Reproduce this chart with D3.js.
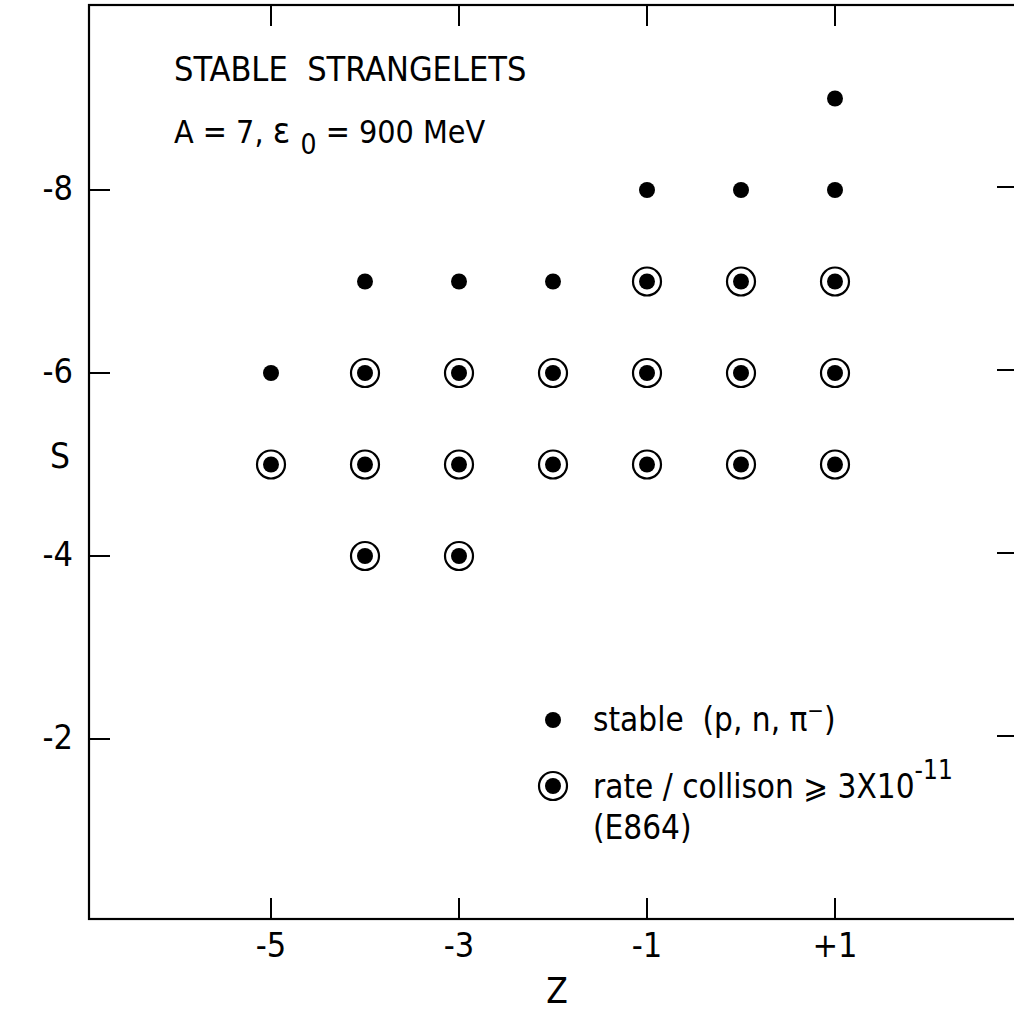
<!DOCTYPE html>
<html>
<head>
<meta charset="utf-8">
<script src="https://cdn.jsdelivr.net/npm/d3@7"></script>
<style>
  html, body { margin: 0; padding: 0; background: #fff; }
  svg { display: block; }
  text { font-family: "DejaVu Sans Condensed", "DejaVu Sans", sans-serif; font-stretch: condensed; fill: #000; }
</style>
</head>
<body>
<svg id="chart" width="1014" height="1026"></svg>
<script>
// Charge Z and strangeness S of strangelets with baryon number A = 7
const zTicks = [-5, -3, -1, 1];
const zTickLabels = ["-5", "-3", "-1", "+1"];
const sTicks = [-8, -6, -4, -2];
const sTickLabels = ["-8", "-6", "-4", "-2"];

// all stable states (p, n, pi- emission forbidden): [Z, S]
const stablePoints = [
  [1, -9],
  [-1, -8], [0, -8], [1, -8],
  [-4, -7], [-3, -7], [-2, -7], [-1, -7], [0, -7], [1, -7],
  [-5, -6], [-4, -6], [-3, -6], [-2, -6], [-1, -6], [0, -6], [1, -6],
  [-5, -5], [-4, -5], [-3, -5], [-2, -5], [-1, -5], [0, -5], [1, -5],
  [-4, -4], [-3, -4]
];
// states produced at rate / collision >= 3e-11 (E864 reach): [Z, S]
const e864Points = [
  [-1, -7], [0, -7], [1, -7],
  [-4, -6], [-3, -6], [-2, -6], [-1, -6], [0, -6], [1, -6],
  [-5, -5], [-4, -5], [-3, -5], [-2, -5], [-1, -5], [0, -5], [1, -5],
  [-4, -4], [-3, -4]
];

const frame = { left: 89, right: 1021, top: 5, bottom: 919 };

const svg = d3.select("#chart");
const x = d3.scaleLinear().domain([-5, 1]).range([271, 835]);
const y = d3.scaleLinear().domain([-8, -2]).range([190, 739]);

// plot frame
svg.append("rect")
  .attr("x", frame.left).attr("y", frame.top)
  .attr("width", frame.right - frame.left).attr("height", frame.bottom - frame.top)
  .attr("fill", "none").attr("stroke", "#000").attr("stroke-width", 2.2);

const tickLen = 21;
const ticks = svg.append("g").attr("stroke", "#000").attr("stroke-width", 2);
// ticks along bottom and top edges, pointing inward
ticks.selectAll(".tb").data(zTicks).join("line")
  .attr("x1", d => x(d)).attr("x2", d => x(d))
  .attr("y1", frame.bottom).attr("y2", frame.bottom - tickLen);
ticks.selectAll(".tt").data(zTicks).join("line")
  .attr("x1", d => x(d)).attr("x2", d => x(d))
  .attr("y1", frame.top).attr("y2", frame.top + tickLen);
// ticks along left and right edges
ticks.selectAll(".tl").data(sTicks).join("line")
  .attr("x1", frame.left).attr("x2", frame.left + tickLen)
  .attr("y1", d => y(d)).attr("y2", d => y(d));
ticks.selectAll(".tr").data(sTicks).join("line")
  .attr("x1", frame.right).attr("x2", frame.right - 24)
  .attr("y1", d => y(d) - 3).attr("y2", d => y(d) - 3);

// tick labels
svg.append("g").selectAll("text").data(zTicks).join("text")
  .attr("x", d => x(d)).attr("y", 957)
  .attr("text-anchor", "middle").attr("font-size", 34)
  .text((d, i) => zTickLabels[i]);
svg.append("g").selectAll("text").data(sTicks).join("text")
  .attr("x", 73).attr("y", d => y(d) + 10)
  .attr("text-anchor", "end").attr("font-size", 34)
  .text((d, i) => sTickLabels[i]);

// axis titles
svg.append("text").attr("x", 557).attr("y", 1003)
  .attr("text-anchor", "middle").attr("font-size", 35).text("Z");
svg.append("text").attr("x", 60).attr("y", 468)
  .attr("text-anchor", "middle").attr("font-size", 35).text("S");

// header text
svg.append("text").attr("x", 174).attr("y", 81)
  .attr("font-size", 34).attr("xml:space", "preserve").text("STABLE  STRANGELETS");
const line2 = svg.append("text").attr("x", 174).attr("y", 143).attr("font-size", 32)
  .attr("xml:space", "preserve");
line2.append("tspan").text("A = 7, ");
line2.append("tspan").attr("font-size", 36).text("ε ");
line2.append("tspan").attr("dy", 11).attr("font-size", 28).text("0");
line2.append("tspan").attr("dy", -11).text(" = 900 MeV");

// markers
const marks = svg.append("g");
marks.selectAll(".ring").data(e864Points).join("circle")
  .attr("cx", d => x(d[0])).attr("cy", d => y(d[1]))
  .attr("r", 14).attr("fill", "none").attr("stroke", "#000").attr("stroke-width", 2.2);
marks.selectAll(".dot").data(stablePoints).join("circle")
  .attr("cx", d => x(d[0])).attr("cy", d => y(d[1]))
  .attr("r", 8).attr("fill", "#000");

// legend
const legend = svg.append("g");
legend.append("circle").attr("cx", 553).attr("cy", 720).attr("r", 8).attr("fill", "#000");
const l1 = legend.append("text").attr("x", 593).attr("y", 731).attr("font-size", 33)
  .attr("xml:space", "preserve");
l1.append("tspan").text("stable  (p, n, π");
l1.append("tspan").attr("dy", -13).attr("font-size", 22).text("−");
l1.append("tspan").attr("dy", 13).text(")");

legend.append("circle").attr("cx", 553).attr("cy", 786).attr("r", 14)
  .attr("fill", "none").attr("stroke", "#000").attr("stroke-width", 2.2);
legend.append("circle").attr("cx", 553).attr("cy", 786).attr("r", 8).attr("fill", "#000");
const l2 = legend.append("text").attr("x", 593).attr("y", 798).attr("font-size", 33)
  .attr("xml:space", "preserve");
l2.append("tspan").text("rate / collison ⩾ 3X10");
l2.append("tspan").attr("dy", -19).attr("font-size", 26).text("-11");
legend.append("text").attr("x", 593).attr("y", 839).attr("font-size", 33).text("(E864)");
</script>
</body>
</html>
